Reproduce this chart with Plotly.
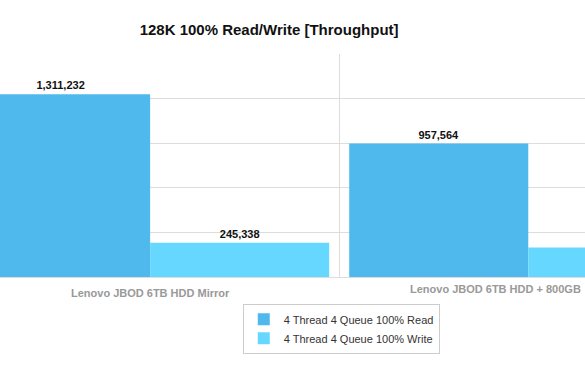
import plotly.graph_objects as go

categories = [0, 1]
category_labels = ["Lenovo JBOD 6TB HDD Mirror", "Lenovo JBOD 6TB HDD + 800GB"]
series_names = ["4 Thread 4 Queue 100% Read", "4 Thread 4 Queue 100% Write"]
read_values = [1311232, 957564]
write_values = [245338, 211500]
write_label_shown = [True, False]
colors = ["#4FB9EE", "#66D7FF"]

FONT = "Liberation Sans, Arial, Helvetica, sans-serif"

fig = go.Figure()
fig.add_trace(go.Bar(
    x=categories, y=read_values, name=series_names[0],
    marker=dict(color=colors[0], line=dict(width=0)),
    text=[f"{v:,}" for v in read_values],
    textposition="outside", cliponaxis=False,
    textfont=dict(family=FONT, size=11, color="#111111", weight="bold"),
))
fig.add_trace(go.Bar(
    x=categories, y=write_values, name=series_names[1],
    marker=dict(color=colors[1], line=dict(width=0)),
    text=[f"{v:,}" if s else "" for v, s in zip(write_values, write_label_shown)],
    textposition="outside", cliponaxis=False,
    textfont=dict(family=FONT, size=11, color="#111111", weight="bold"),
))

fig.update_layout(
    width=585, height=373,
    barmode="group", bargap=0.053, bargroupgap=0,
    plot_bgcolor="white", paper_bgcolor="white",
    margin=dict(l=0, r=0, t=54, b=96),
    title=dict(text="<b>128K 100% Read/Write [Throughput]</b>",
               x=0.46, xanchor="center", y=1 - 30 / 373, yanchor="middle",
               font=dict(family=FONT, size=15, color="#111111")),
    font=dict(family=FONT),
    legend=dict(orientation="v", x=0.415, xanchor="left", y=-0.12, yanchor="top",
                bordercolor="#CCCCCC", borderwidth=1,
                font=dict(family=FONT, size=11, color="#333333"),
                itemwidth=30, tracegroupgap=0),
    showlegend=True,
)

fig.update_xaxes(
    type="linear", range=[-0.397, 1.15],
    tickvals=[0], ticktext=[category_labels[0]],
    tickfont=dict(family=FONT, size=11, color="#999999", weight="bold"),
    showgrid=False, zeroline=False,
    showline=True, linecolor="#DDDDDD", linewidth=1,
    ticks="", ticklabelstandoff=6,
    minor=dict(tickvals=[0.5], showgrid=True, gridcolor="#DDDDDD", gridwidth=1),
)
fig.update_yaxes(
    range=[0, 1600000], dtick=320000, showticklabels=False,
    showgrid=True, gridcolor="#DDDDDD", gridwidth=1, zeroline=False,
    showline=True, mirror=True, linecolor="#DDDDDD",
)

fig.add_annotation(text="<b>" + category_labels[1] + "</b>", xref="paper", yref="paper",
                   x=1.0, y=-0.055, xanchor="right", yanchor="middle", xshift=-2,
                   showarrow=False, font=dict(family=FONT, size=11, color="#999999"))

fig.write_html("out.html", config={"displayModeBar": False},
               post_script="document.body.style.margin='0';document.body.style.padding='0';")
